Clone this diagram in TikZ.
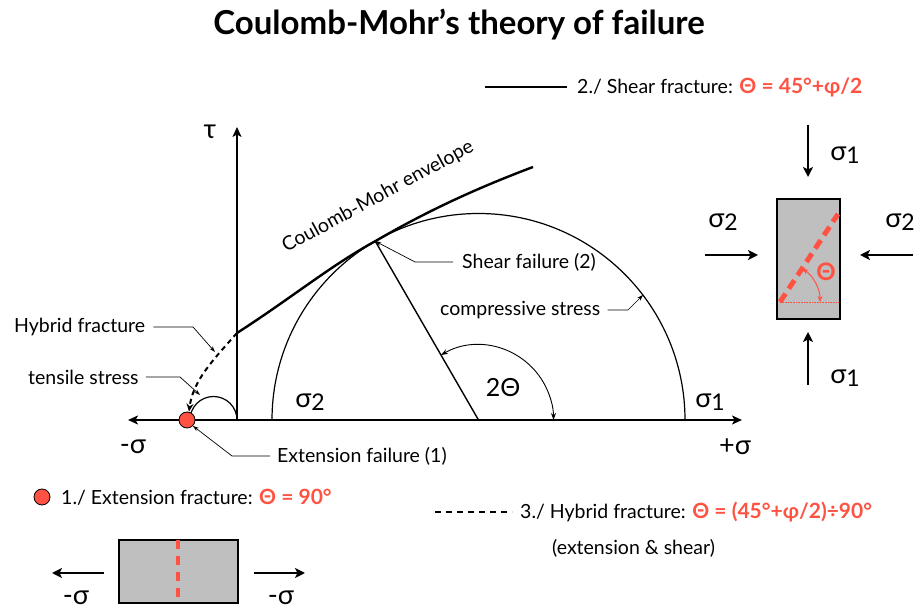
\documentclass[tikz,border=0pt]{standalone}
\usepackage{fontspec}
\setmainfont{Lato}
\usetikzlibrary{arrows.meta}
\definecolor{fred}{RGB}{255,82,66}
\definecolor{fgray}{RGB}{191,191,191}
\newcommand\sbs[1]{\raisebox{-0.1em}{\fontsize{23}{23}\selectfont #1}}
\newcommand\redpart[1]{{\color{fred}\fontsize{21}{22}\selectfont\bfseries #1}}
\begin{document}
\begin{tikzpicture}[x=1pt,y=1pt,
  txt/.style={font=\fontsize{19.5}{22}\selectfont, inner sep=0pt},
  big/.style={font=\fontsize{27}{29}\selectfont, inner sep=0pt},
  ax/.style={line width=1.6pt},
  bigarrow/.style={line width=2pt, -{Stealth[length=10pt,width=10pt,inset=2.5pt]}},
  lead/.style={line width=0.7pt, -{Stealth[length=6pt,width=4pt]}},
  specimen/.style={draw, fill=fgray, line width=1.5pt, inner sep=0pt},
  dot/.style={circle, fill=fred, draw, line width=0.8pt, minimum size=16pt, inner sep=0pt}
]
\useasboundingbox (0,0) rectangle (917,609);
% title
\node[font=\fontsize{33}{36}\selectfont\bfseries] (title) at (459,584) {Coulomb-Mohr’s theory of failure};
% axes
\coordinate (O) at (237,189);
\coordinate (xl) at (128,189);
\coordinate (xr) at (742,189);
\coordinate (yt) at (237,482);
\draw[ax,{Stealth[length=10pt,width=9pt,inset=2.5pt]}-{Stealth[length=10pt,width=9pt,inset=2.5pt]}] (xl) -- (xr);
\draw[ax,-{Stealth[length=10pt,width=9pt,inset=2.5pt]}] (O) -- (yt);
\node[big] (tau) at (210,477) {τ};
\node[big] (msig) at (133,162) {-σ};
\node[big] (psig) at (735,162) {+σ};
% circles
\draw[line width=1.2pt] (237,189) arc (0:180:23.5);
\coordinate (C) at (478.5,189);
\coordinate (T) at (375.25,367.8);
\draw[line width=1.2pt] (685,189) arc (0:180:206.5);
\draw[line width=1.4pt] (C) -- (T);
\node[big] (s2) at (310,207) {σ\sbs{2}};
\node[big] (s1) at (710,207) {σ\sbs{1}};
\node[font=\fontsize{25}{27}\selectfont, inner sep=0pt] (tt) at (503,221) {2Θ};
\draw[line width=0.9pt,{Stealth[length=7pt,width=5pt]}-{Stealth[length=7pt,width=5pt]}] (441,253.95) arc (120:0:75);
% envelope
\coordinate (E0) at (237,276);
\coordinate (E1) at (533,442);
\draw[line width=2.4pt] (E0) .. controls (290,310) and (330,343) .. (T) .. controls (430,399.7) and (480,422) .. (E1);
\node[txt, rotate=28.5] (envlab) at (378,412) {Coulomb-Mohr envelope};
% extension point and hybrid path
\node[dot] (ext) at (187,189) {};
\draw[line width=2pt, dash pattern=on 5pt off 4pt, -{Stealth[length=8pt,width=7pt]}] (E0) .. controls (212,248) and (193,228) .. ([xshift=2pt]ext.north);
% labels with leaders
\node[txt, anchor=west] (hyb) at (14,282) {Hybrid fracture};
\draw[lead] ([xshift=8pt]hyb.east) -- (193,282) -- (215,257);
\node[txt, anchor=west] (ten) at (28,232) {tensile stress};
\draw[lead] ([xshift=7pt]ten.east) -- (180,232) -- (200,214);
\node[txt, anchor=west] (extf) at (277,153) {Extension failure (1)};
\draw[lead] ([xshift=-7pt]extf.west) -- (232,153) -- (ext.south east);
\node[txt, anchor=west] (shf) at (462,347) {Shear failure (2)};
\draw[lead] ([xshift=-9pt]shf.west) -- (415,347) -- (T);
\node[txt, anchor=west] (comp) at (440,299) {compressive stress};
\draw[lead] ([xshift=7pt]comp.east) -- (628,299) -- (643,314);
% legend 2
\coordinate (l2a) at (485,522);
\coordinate (l2b) at (567,522);
\draw[line width=2.5pt] (l2a) -- (l2b);
\node[txt, anchor=west] (leg2) at (577,522) {2./ Shear fracture: \redpart{Θ = 45°+φ/2}};
% right specimen
\node[specimen, minimum width=63pt, minimum height=120pt] (blk) at (808.5,350) {};
\coordinate (fa) at (780,307);
\coordinate (fb) at (838,395);
\draw[fred, line width=5pt, dash pattern=on 10pt off 6pt] (fa) -- (fb);
\draw[fred, densely dotted, line width=0.6pt] (fa) -- (838,307);
\draw[fred, line width=1pt, {Stealth[length=6pt,width=5pt]}-{Stealth[length=6pt,width=5pt]}] (802.4,340.2) arc (56:0:40);
\node[text=fred, font=\fontsize{24}{26}\selectfont\bfseries, inner sep=0pt] (thr) at (826,337) {Θ};
\draw[bigarrow] (808,484) -- (808,432);
\draw[bigarrow] (808,224) -- (808,277);
\draw[bigarrow] (705,354) -- (758,354);
\draw[bigarrow] (913,354) -- (860,354);
\node[big] (r1t) at (845,454) {σ\sbs{1}};
\node[big] (r1b) at (845,231) {σ\sbs{1}};
\node[big] (r2l) at (723,387) {σ\sbs{2}};
\node[big] (r2r) at (900,387) {σ\sbs{2}};
% legend 1
\node[dot] (ldot) at (42,112) {};
\node[txt, anchor=west] (leg1) at (61,112) {1./ Extension fracture: \redpart{Θ = 90°}};
\node[specimen, minimum width=119pt, minimum height=63pt] (blk2) at (178.5,37.5) {};
\draw[fred, line width=4pt, dash pattern=on 9pt off 7pt] (178,69) -- (178,6);
\draw[bigarrow] (104,36) -- (52,36);
\draw[bigarrow] (254,36) -- (305,36);
\node[big, anchor=base] (bl) at (76,4) {-σ};
\node[big, anchor=base] (br) at (281,4) {-σ};
% legend 3
\coordinate (l3a) at (435,97);
\coordinate (l3b) at (512,97);
\draw[line width=2.5pt, dash pattern=on 6pt off 5pt] (l3a) -- (l3b);
\node[txt, anchor=west] (leg3) at (520,97) {3./ Hybrid fracture: \redpart{Θ = (45°+φ/2)÷90°}};
\node[txt, anchor=west] (leg3b) at (552,61) {(extension \& shear)};
\end{tikzpicture}
\end{document}
